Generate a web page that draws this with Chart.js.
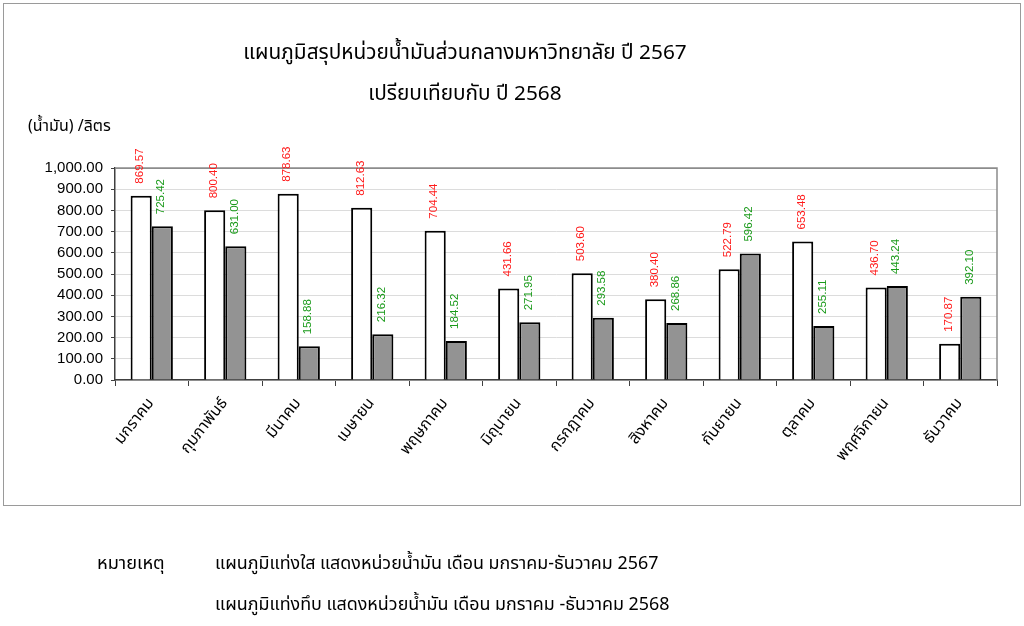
<!DOCTYPE html>
<html>
<head>
<meta charset="utf-8">
<script src="https://cdn.jsdelivr.net/npm/chart.js@4"></script>
<style>
  html, body { margin:0; padding:0; background:#fff; }
  body { width:1024px; height:626px; position:relative; overflow:hidden;
         font-family:"Noto Sans Thai","Tahoma","Leelawadee UI","Noto Sans",sans-serif; color:#000; }
  #frame { position:absolute; left:3px; top:3px; width:1016px; height:501px; border:1px solid #9a9a9a; }
  #cv { position:absolute; left:0; top:0; }
  .t { position:absolute; white-space:nowrap; }
  #title1 { left:0; width:930px; text-align:center; top:37px; font-size:20.8px; }
  #title2 { left:0; width:930px; text-align:center; top:78px; font-size:20.8px; }
  #ytitle { left:28px; top:114px; font-size:16px; }
  #n1 { left:97px; top:550px; font-size:18.2px; }
  #n2 { left:215px; top:550px; font-size:17.9px; }
  #n3 { left:215px; top:591px; font-size:17.9px; }
</style>
</head>
<body>
<div id="frame"></div>
<canvas id="cv" width="1024" height="626"></canvas>
<div class="t" id="title1">แผนภูมิสรุปหน่วยน้ำมันส่วนกลางมหาวิทยาลัย ปี 2567</div>
<div class="t" id="title2">เปรียบเทียบกับ ปี 2568</div>
<div class="t" id="ytitle">(น้ำมัน) /ลิตร</div>
<div class="t" id="n1">หมายเหตุ</div>
<div class="t" id="n2">แผนภูมิแท่งใส แสดงหน่วยน้ำมัน เดือน มกราคม-ธันวาคม 2567</div>
<div class="t" id="n3">แผนภูมิแท่งทึบ แสดงหน่วยน้ำมัน เดือน มกราคม -ธันวาคม 2568</div>
<script>
const months = ["มกราคม","กุมภาพันธ์","มีนาคม","เมษายน","พฤษภาคม","มิถุนายน","กรกฎาคม","สิงหาคม","กันยายน","ตุลาคม","พฤศจิกายน","ธันวาคม"];
const units2567 = [869.57, 800.40, 878.63, 812.63, 704.44, 431.66, 503.60, 380.40, 522.79, 653.48, 436.70, 170.87];
const units2568 = [725.42, 631.00, 158.88, 216.32, 184.52, 271.95, 293.58, 268.86, 596.42, 255.11, 443.24, 392.10];
const yMin = 0, yMax = 1000, yStep = 100;

const fmt = v => Number(v).toLocaleString('en-US', {minimumFractionDigits:2, maximumFractionDigits:2});

const labelColors = ['#ff1a1a', '#1a9a1a'];

const plotBorder = {
  id: 'plotBorder',
  beforeDatasetsDraw(chart) {
    const a = chart.chartArea, c = chart.ctx;
    c.save();
    c.strokeStyle = '#8c8c8c';
    c.lineWidth = 1.5;
    c.beginPath();
    c.moveTo(a.left, a.top);
    c.lineTo(a.right, a.top);
    c.lineTo(a.right, a.bottom);
    c.stroke();
    c.restore();
  }
};

const valueLabels = {
  id: 'valueLabels',
  afterDatasetsDraw(chart) {
    const c = chart.ctx;
    c.save();
    c.font = '11.5px "Liberation Sans", Arial, sans-serif';
    c.textAlign = 'left';
    c.textBaseline = 'middle';
    chart.data.datasets.forEach((ds, di) => {
      const meta = chart.getDatasetMeta(di);
      c.fillStyle = labelColors[di];
      meta.data.forEach((el, i) => {
        c.save();
        c.translate(el.x - 1, el.y - 12);
        c.rotate(-Math.PI / 2);
        c.fillText(fmt(ds.data[i]), 0, 0);
        c.restore();
      });
    });
    c.restore();
  }
};

new Chart(document.getElementById('cv'), {
  type: 'bar',
  data: {
    labels: months,
    datasets: [
      { label: '2567', data: units2567, backgroundColor: '#ffffff', borderColor: '#000000', borderWidth: 2 },
      { label: '2568', data: units2568, backgroundColor: '#939393', borderColor: '#000000', borderWidth: 2 }
    ]
  },
  options: {
    responsive: false,
    animation: false,
    devicePixelRatio: 1,
    layout: { padding: { left: 0, top: 168, right: 27, bottom: 0 } },
    datasets: { bar: { categoryPercentage: 0.575, barPercentage: 1.0 } },
    plugins: { legend: { display: false }, title: { display: false }, tooltip: { enabled: false } },
    scales: {
      x: {
        offset: true,
        grid: { display: true, drawOnChartArea: false, drawTicks: true, tickLength: 6, color: '#404040', offset: true },
        border: { display: true, color: '#404040', width: 1.5 },
        ticks: {
          minRotation: 52, maxRotation: 52, padding: 9,
          font: { size: 16, family: '"Noto Sans Thai","Tahoma","Noto Sans",sans-serif' },
          color: '#000'
        },
        afterFit(scale) { scale.height = 246; }
      },
      y: {
        min: yMin, max: yMax,
        ticks: {
          stepSize: yStep,
          callback: v => fmt(v),
          font: { size: 15, family: '"Liberation Sans", Arial, sans-serif' },
          color: '#000',
          padding: 8
        },
        grid: {
          color: ctx => (ctx.tick && ctx.tick.value === yMax) ? '#8c8c8c' : '#dcdcdc',
          tickColor: '#404040',
          tickLength: 4,
          lineWidth: 1
        },
        border: { display: true, color: '#404040', width: 1.5 },
        afterFit(scale) { scale.width = 115; }
      }
    }
  },
  plugins: [plotBorder, valueLabels]
});
</script>
</body>
</html>
